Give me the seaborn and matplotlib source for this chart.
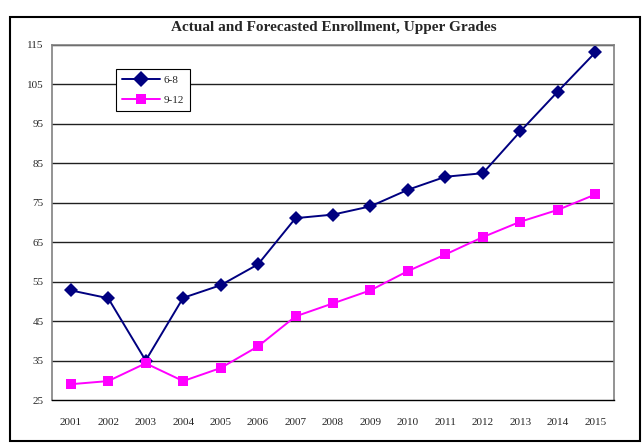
import pandas as pd
import seaborn as sns
import matplotlib.pyplot as plt
from matplotlib.patches import Rectangle

years = ["2001", "2002", "2003", "2004", "2005", "2006", "2007", "2008",
         "2009", "2010", "2011", "2012", "2013", "2014", "2015"]
grades_6_8 = [52.8, 50.8, 35.0, 50.9, 54.1, 59.4, 71.1, 72.0, 74.1, 78.3,
              81.6, 82.5, 93.1, 103.2, 113.1]
grades_9_12 = [29.0, 29.8, 34.3, 29.8, 33.1, 38.6, 46.2, 49.5, 52.8, 57.7,
               61.9, 66.3, 70.2, 73.2, 77.1]
yticks = [25, 35, 45, 55, 65, 75, 85, 95, 105, 115]

df = pd.DataFrame({
    "pos": list(range(len(years))) * 2,
    "value": grades_6_8 + grades_9_12,
    "series": ["6-8"] * len(years) + ["9-12"] * len(years),
})

sns.set_style("white")
plt.rcParams['font.family'] = ['Liberation Serif', 'DejaVu Serif']

fig = plt.figure(figsize=(6.44, 4.44), dpi=100)
ax = fig.add_axes([52 / 644, 1 - 400 / 444, 562 / 644, 355 / 444])

sns.lineplot(data=df, x="pos", y="value", hue="series", style="series",
             markers={"6-8": "D", "9-12": "s"}, dashes=False,
             palette={"6-8": "#000080", "9-12": "#FF00FF"},
             markersize=7, linewidth=1.4, markeredgewidth=0, ax=ax)

ax.set_xlim(-0.5, len(years) - 0.5)
ax.set_ylim(25, 115)
ax.set_yticks(yticks)
ax.set_yticklabels([str(t) for t in yticks], fontsize=8)
ax.set_xticks(range(len(years)))
ax.set_xticklabels(years, fontsize=8)
ax.set_xticks([i - 0.5 for i in range(len(years) + 1)], minor=True)
ax.tick_params(axis="x", which="major", length=0, pad=13)
ax.tick_params(axis="x", which="minor", length=5, width=0.8, color="black", direction="out")
ax.tick_params(axis="y", length=4, width=0.8, color="#606060", direction="out", pad=2)
ax.set_xlabel("")
ax.set_ylabel("")

for t in yticks[1:]:
    ax.axhline(t, color="#202020", linewidth=1.0, zorder=0)

for s in ["left", "right", "top"]:
    ax.spines[s].set_color("#808080")
    ax.spines[s].set_linewidth(1.2)
ax.spines["bottom"].set_color("black")
ax.spines["bottom"].set_linewidth(1.0)

leg = ax.legend(loc="upper left", bbox_to_anchor=(58 / 562, 1 - 18 / 355),
                fontsize=8, frameon=True, fancybox=False, framealpha=1,
                edgecolor="black", handlelength=3.4, handletextpad=0.3,
                borderpad=0.6, labelspacing=0.9, markerscale=1.1)
leg.get_frame().set_linewidth(0.8)

fig.text(0.518, 1 - 27 / 444, "Actual and Forecasted Enrollment, Upper Grades",
         ha="center", va="center", fontsize=11, fontweight="bold")

fig.patches.append(Rectangle((10 / 644, 3 / 444), 630 / 644, 424 / 444,
                             transform=fig.transFigure, fill=False,
                             edgecolor="black", linewidth=1.5))

fig.savefig("out.png", dpi=100)
